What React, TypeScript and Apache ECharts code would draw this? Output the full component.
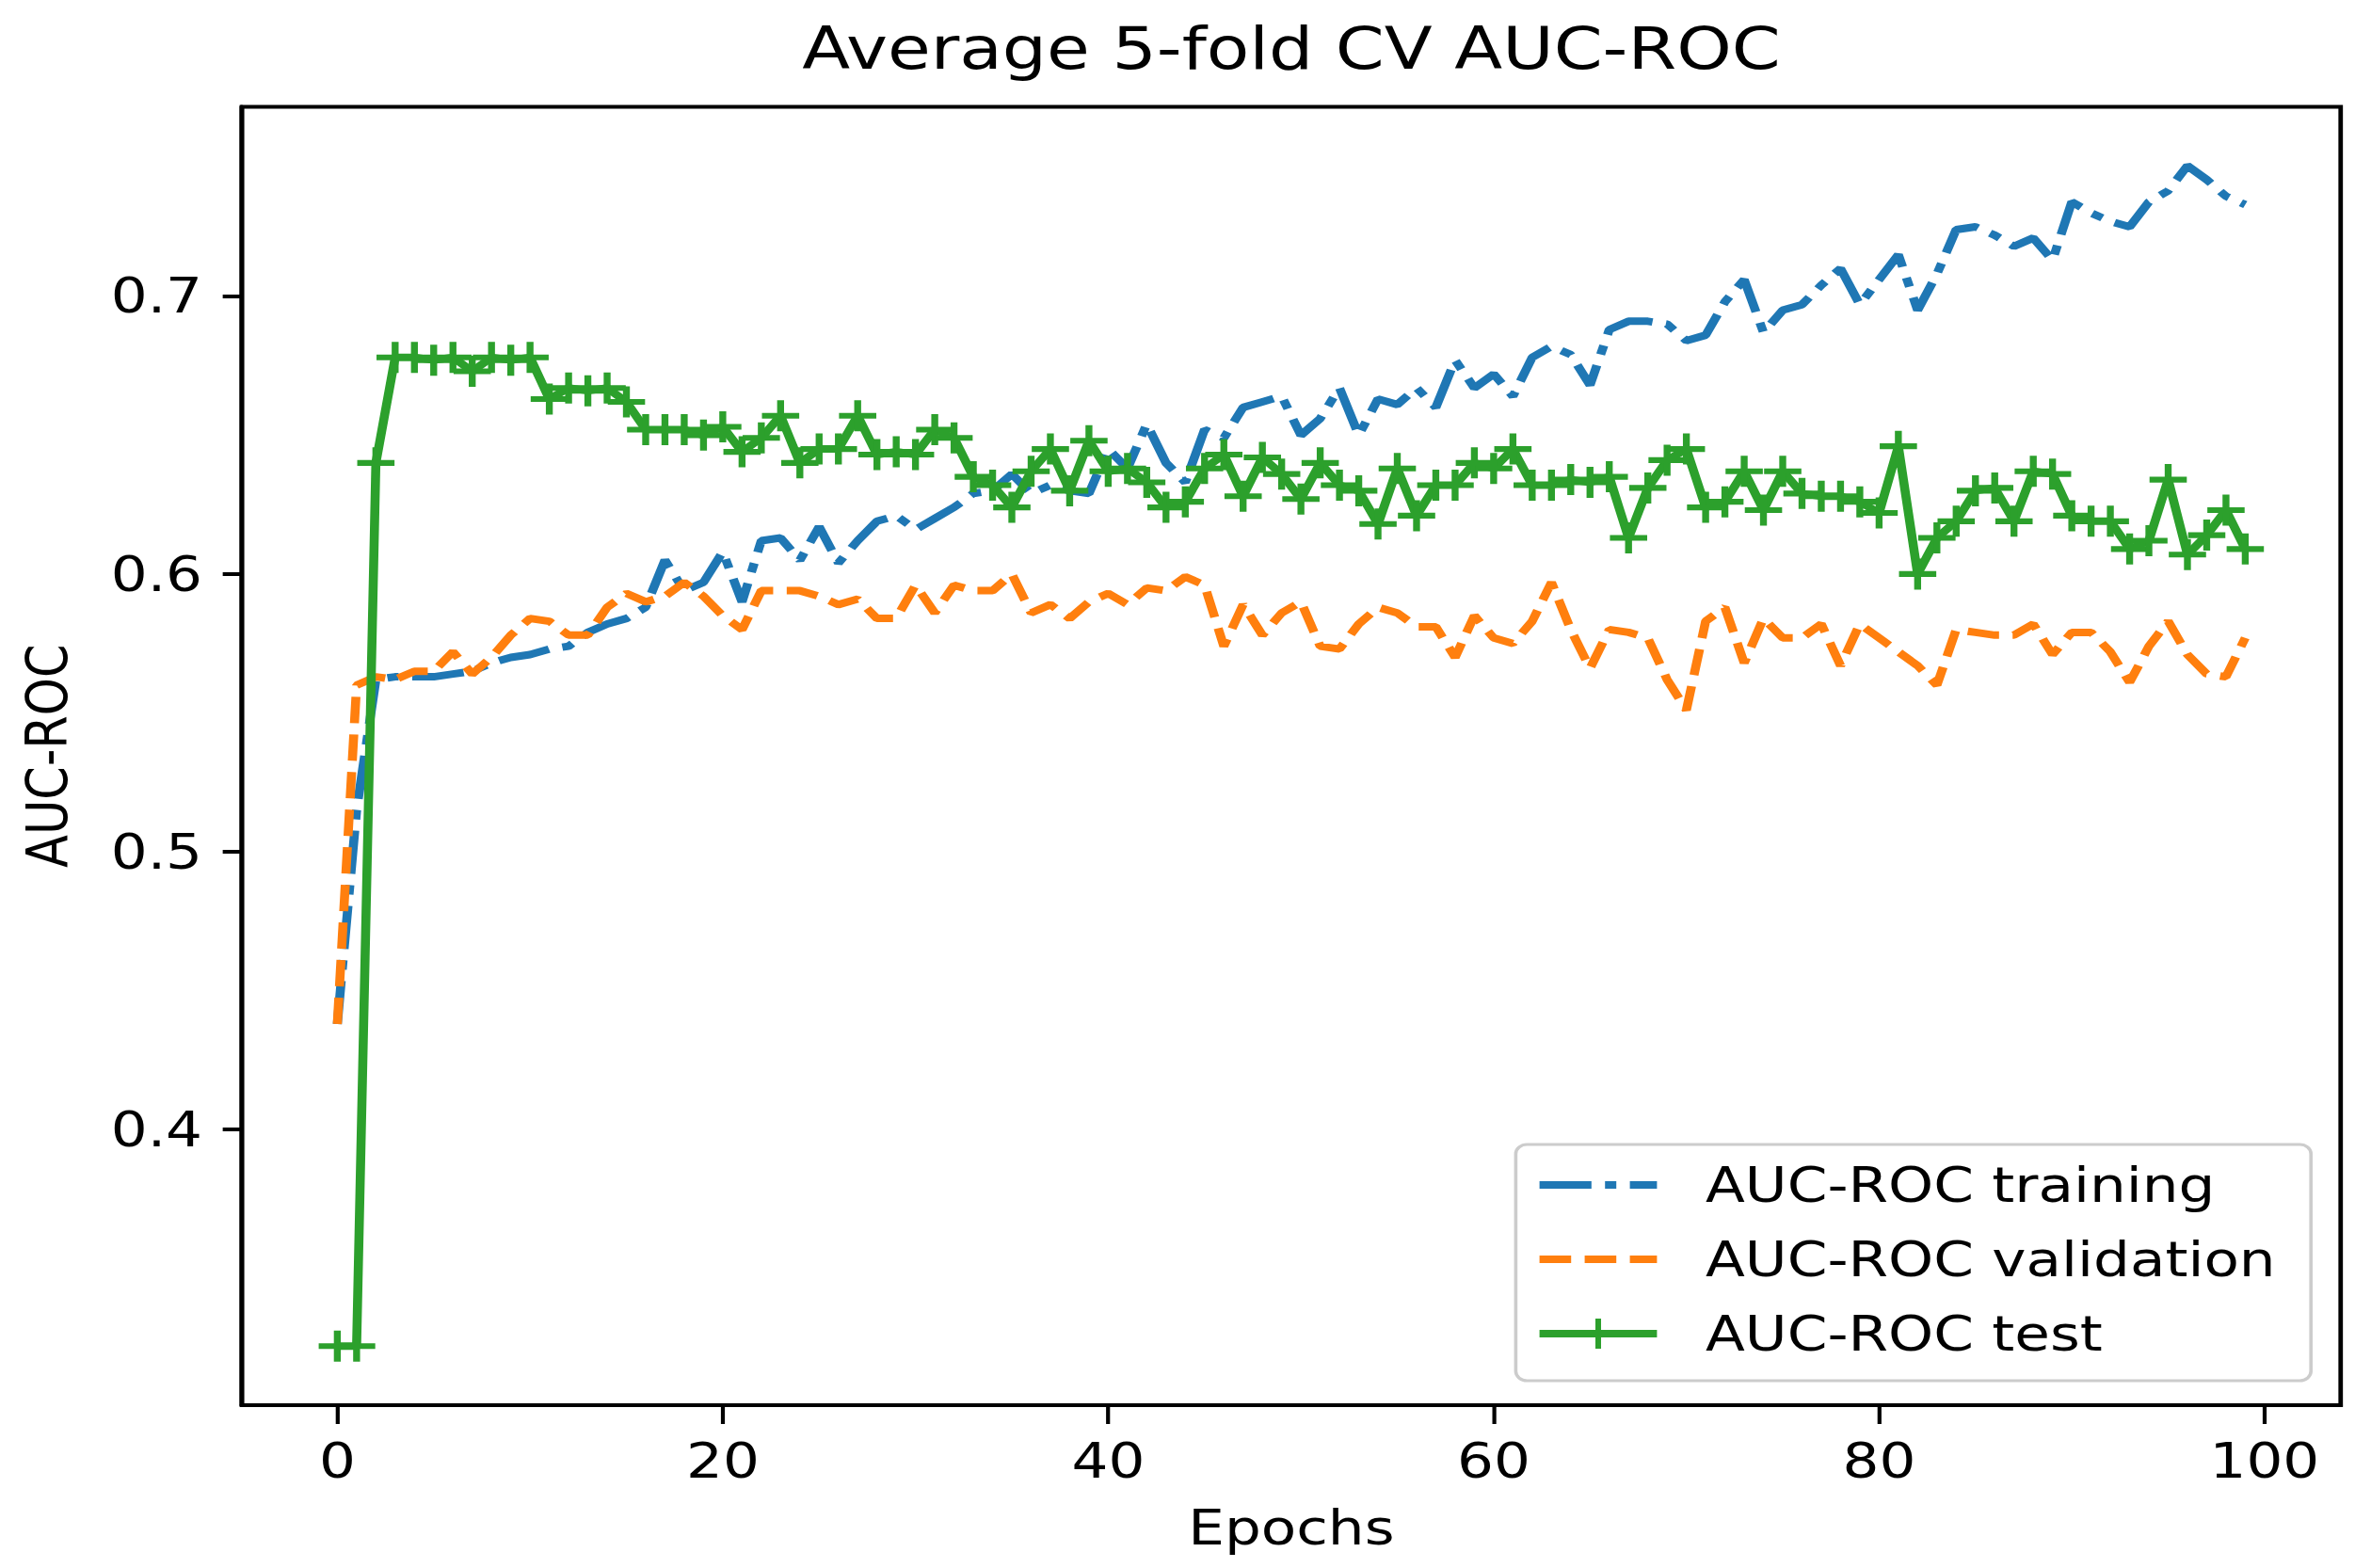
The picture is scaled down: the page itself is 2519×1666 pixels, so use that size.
import React, { useEffect, useRef } from "react";
import * as echarts from "echarts";

// ---- data ----
const epochs = Array.from({ length: 100 }, (_, i) => i);

const trainAUC = [
  0.438, 0.515, 0.562, 0.563, 0.563, 0.563, 0.564, 0.565, 0.568, 0.570,
  0.571, 0.573, 0.574, 0.579, 0.582, 0.584, 0.588, 0.605, 0.594, 0.597,
  0.608, 0.590, 0.612, 0.613, 0.605, 0.617, 0.604, 0.612, 0.619, 0.621,
  0.616, 0.620, 0.624, 0.629, 0.630, 0.636, 0.629, 0.632, 0.630, 0.629,
  0.645, 0.638, 0.654, 0.640, 0.633, 0.652, 0.649, 0.660, 0.662, 0.664,
  0.650, 0.656, 0.667, 0.650, 0.663, 0.661, 0.667, 0.660, 0.677, 0.667,
  0.672, 0.664, 0.678, 0.682, 0.679, 0.668, 0.688, 0.691, 0.691, 0.690,
  0.684, 0.686, 0.698, 0.706, 0.687, 0.695, 0.697, 0.704, 0.710, 0.697,
  0.706, 0.715, 0.695, 0.708, 0.724, 0.725, 0.722, 0.718, 0.721, 0.713,
  0.734, 0.730, 0.727, 0.725, 0.734, 0.738, 0.747, 0.742, 0.736, 0.733,
];

const valAUC = [
  0.438, 0.560, 0.563, 0.562, 0.565, 0.565, 0.572, 0.564, 0.570, 0.578,
  0.584, 0.583, 0.578, 0.578, 0.588, 0.593, 0.590, 0.592, 0.597, 0.592,
  0.585, 0.580, 0.594, 0.594, 0.594, 0.592, 0.589, 0.591, 0.584, 0.584,
  0.596, 0.586, 0.596, 0.594, 0.594, 0.600, 0.586, 0.589, 0.584, 0.590,
  0.593, 0.589, 0.595, 0.594, 0.599, 0.596, 0.574, 0.589, 0.578, 0.586,
  0.590, 0.574, 0.573, 0.582, 0.588, 0.586, 0.581, 0.581, 0.570, 0.585,
  0.577, 0.575, 0.583, 0.597, 0.580, 0.566, 0.580, 0.579, 0.577, 0.562,
  0.551, 0.583, 0.588, 0.568, 0.584, 0.577, 0.577, 0.582, 0.567, 0.582,
  0.577, 0.572, 0.567, 0.560, 0.580, 0.579, 0.578, 0.578, 0.582, 0.571,
  0.579, 0.579, 0.572, 0.561, 0.574, 0.583, 0.571, 0.564, 0.563, 0.577,
];

const testAUC = [
  0.322, 0.322, 0.640, 0.678, 0.678, 0.677, 0.678, 0.673, 0.678, 0.677,
  0.678, 0.663, 0.667, 0.666, 0.667, 0.662, 0.652, 0.652, 0.652, 0.650,
  0.653, 0.644, 0.649, 0.657, 0.640, 0.645, 0.645, 0.657, 0.643, 0.644,
  0.643, 0.652, 0.649, 0.635, 0.632, 0.624, 0.637, 0.645, 0.630, 0.648,
  0.637, 0.638, 0.633, 0.624, 0.626, 0.638, 0.643, 0.628, 0.642, 0.636,
  0.627, 0.640, 0.632, 0.630, 0.618, 0.638, 0.621, 0.632, 0.632, 0.640,
  0.638, 0.645, 0.632, 0.632, 0.634, 0.633, 0.635, 0.613, 0.631, 0.641,
  0.645, 0.624, 0.626, 0.637, 0.623, 0.637, 0.629, 0.628, 0.628, 0.626,
  0.622, 0.646, 0.600, 0.613, 0.619, 0.630, 0.631, 0.619, 0.637, 0.636,
  0.621, 0.619, 0.619, 0.609, 0.612, 0.634, 0.607, 0.614, 0.623, 0.609,
];

const seriesNames = ["AUC-ROC training", "AUC-ROC validation", "AUC-ROC test"];
const xTicks = [0, 20, 40, 60, 80, 100];
const yTicks = [0.4, 0.5, 0.6, 0.7];

// ---- layout ----
const W = 2519;
const H = 1666;
const SX = 1.2; // the reference is horizontally stretched
const IW = W / SX;
const FONT = "DejaVu Sans";
const BLUE = "#1f77b4";
const ORANGE = "#ff7f0e";
const GREEN = "#2ca02c";
const LW = 8;
const PLUS =
  "path://M-1.3,-7L1.3,-7L1.3,-1.3L7,-1.3L7,1.3L1.3,1.3L1.3,7L-1.3,7L-1.3,1.3L-7,1.3L-7,-1.3L-1.3,-1.3Z";

export default function App() {
  const ref = useRef<HTMLDivElement>(null);

  useEffect(() => {
    document.body.style.margin = "0";
    const chart = echarts.init(ref.current!, null, { renderer: "svg" });

    const all = [...trainAUC, ...valAUC, ...testAUC];
    const dMin = Math.min(...all);
    const dMax = Math.max(...all);
    const pad = (dMax - dMin) * 0.05;
    const xPad = (epochs[epochs.length - 1] - epochs[0]) * 0.05;

    const gridLeft = 214.2;
    const gridRight = 26.7;
    const gridTop = 113.4;
    const gridBottom = 173;
    const plotCenter = gridLeft + (IW - gridLeft - gridRight) / 2;

    const lx = 1342;
    const ly = 1216;
    const rowY = [1259, 1338, 1417];
    const textStyle = { fontFamily: FONT, fontSize: 51, color: "#000" };

    const option: any = {
      animation: false,
      backgroundColor: "#fff",
      title: {
        text: "Average 5-fold CV AUC-ROC",
        left: plotCenter,
        top: 20,
        padding: 0,
        textAlign: "center",
        textStyle: {
          fontFamily: FONT,
          fontSize: 62,
          fontWeight: "normal",
          color: "#000",
        },
      },
      grid: {
        left: gridLeft,
        right: gridRight,
        top: gridTop,
        bottom: gridBottom,
        show: true,
        borderColor: "#000",
        borderWidth: 4,
        backgroundColor: "transparent",
      },
      xAxis: {
        type: "value",
        min: epochs[0] - xPad,
        max: epochs[epochs.length - 1] + xPad,
        name: "Epochs",
        nameLocation: "middle",
        nameGap: 105,
        nameTextStyle: textStyle,
        axisLine: { show: true, onZero: false, lineStyle: { color: "#000", width: 4 } },
        splitLine: { show: false },
        axisTick: {
          show: true,
          length: 20,
          customValues: xTicks,
          lineStyle: { color: "#000", width: 3.5 },
        },
        axisLabel: {
          customValues: xTicks,
          margin: 34,
          fontFamily: FONT,
          fontSize: 51,
          color: "#000",
        },
      },
      yAxis: {
        type: "value",
        min: dMin - pad,
        max: dMax + pad,
        name: "AUC-ROC",
        nameLocation: "middle",
        nameGap: 147,
        nameTextStyle: textStyle,
        axisLine: { show: true, onZero: false, lineStyle: { color: "#000", width: 4 } },
        splitLine: { show: false },
        axisTick: {
          show: true,
          length: 17,
          customValues: yTicks,
          lineStyle: { color: "#000", width: 4 },
        },
        axisLabel: {
          customValues: yTicks,
          margin: 35,
          fontFamily: FONT,
          fontSize: 51,
          color: "#000",
          formatter: (v: number) => v.toFixed(1),
        },
      },
      series: [
        {
          name: seriesNames[0],
          type: "line",
          data: epochs.map((e, i) => [e, trainAUC[i]]),
          symbol: "none",
          lineStyle: { color: BLUE, width: LW, type: [46, 12, 10, 12] },
          itemStyle: { color: BLUE },
        },
        {
          name: seriesNames[1],
          type: "line",
          data: epochs.map((e, i) => [e, valAUC[i]]),
          symbol: "none",
          lineStyle: { color: ORANGE, width: LW, type: [28, 12] },
          itemStyle: { color: ORANGE },
        },
        {
          name: seriesNames[2],
          type: "line",
          data: epochs.map((e, i) => [e, testAUC[i]]),
          symbol: PLUS,
          symbolSize: 33,
          showSymbol: true,
          lineStyle: { color: GREEN, width: LW },
          itemStyle: { color: GREEN },
        },
      ],
      graphic: [
        {
          type: "rect",
          shape: { x: lx, y: ly, width: 704, height: 251, r: 10 },
          style: { fill: "rgba(255,255,255,0.8)", stroke: "#cccccc", lineWidth: 3 },
          z: 100,
        },
        {
          type: "line",
          shape: { x1: lx + 21, y1: rowY[0], x2: lx + 125, y2: rowY[0] },
          style: { stroke: BLUE, lineWidth: LW, lineDash: [46, 12, 10, 12] },
          z: 101,
        },
        {
          type: "line",
          shape: { x1: lx + 21, y1: rowY[1], x2: lx + 125, y2: rowY[1] },
          style: { stroke: ORANGE, lineWidth: LW, lineDash: [28, 12] },
          z: 101,
        },
        {
          type: "line",
          shape: { x1: lx + 21, y1: rowY[2], x2: lx + 125, y2: rowY[2] },
          style: { stroke: GREEN, lineWidth: LW },
          z: 101,
        },
        {
          type: "line",
          shape: { x1: lx + 73, y1: rowY[2] - 16, x2: lx + 73, y2: rowY[2] + 16 },
          style: { stroke: GREEN, lineWidth: 5 },
          z: 101,
        },
        ...seriesNames.map((name, i) => ({
          type: "text",
          x: lx + 168,
          y: rowY[i],
          style: {
            text: name,
            fontFamily: FONT,
            fontSize: 51,
            fill: "#000",
            align: "left",
            verticalAlign: "middle",
          },
          z: 102,
        })),
      ],
    };

    chart.setOption(option);
    return () => chart.dispose();
  }, []);

  return (
    <div style={{ width: W, height: H, overflow: "hidden", background: "#fff" }}>
      <div
        ref={ref}
        style={{
          width: IW,
          height: H,
          transform: `scaleX(${SX})`,
          transformOrigin: "0 0",
        }}
      />
    </div>
  );
}
